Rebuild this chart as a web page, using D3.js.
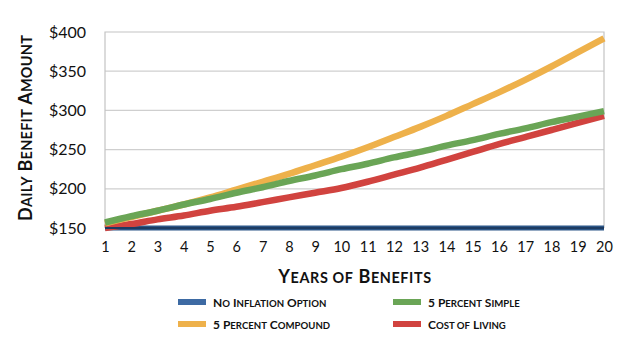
<!DOCTYPE html>
<html>
<head>
<meta charset="utf-8">
<script src="https://cdn.jsdelivr.net/npm/d3@7"></script>
<style>
  body { margin: 0; background: #fff; }
  svg { display: block; font-family: Lato, "Open Sans", sans-serif; }
</style>
</head>
<body>
<svg width="640" height="349"></svg>
<script>
// years on the x axis
var years = d3.range(1, 21);
var yTicks = [150, 200, 250, 300, 350, 400];

// series values
var noInflation = [150,150,150,150,150,150,150,150,150,150,150,150,150,150,150,150,150,150,150,150];
var simple5 = [157,165,172,180,187,195,202,210,217,225,232,240,247,255,262,270,277,285,292,299];
var compound5 = [156,164,172,180,189,199,209,219,230,241,253,266,279,293,308,323,339,356,374,392];
var costOfLiving = [150,155,161,166,172,177,183,189,195,201,209,218,227,237,247,257,266,275,284,293];

var seriesNames = ["No Inflation Option", "5 Percent Simple", "5 Percent Compound", "Cost of Living"];
var seriesColors = ["#2c5687", "#6aa556", "#eeb14b", "#d1433f"];

var svg = d3.select("svg");

var x = d3.scaleLinear().domain([1, 20]).range([105, 604]);
var y = d3.scaleLinear().domain([150, 400]).range([228, 32]);

// small caps by hand: first letter of each word full size, rest smaller
function smallCaps(sel, str, size) {
  var words = str.split(" ");
  words.forEach(function(w, i) {
    var first = w.charAt(0), rest = w.slice(1);
    var lower = first !== first.toUpperCase();
    sel.append("tspan").attr("font-size", lower ? size * 0.8 : size)
      .text((i > 0 ? " " : "") + first.toUpperCase());
    if (rest) sel.append("tspan").attr("font-size", size * 0.8).text(rest.toUpperCase());
  });
}

// gridlines
svg.append("g")
  .selectAll("line")
  .data(yTicks.slice(1, -1))
  .enter().append("line")
  .attr("x1", x(1)).attr("x2", x(20))
  .attr("y1", d => y(d)).attr("y2", d => y(d))
  .attr("stroke", "#cfcfcf")
  .attr("stroke-width", 1.2);

// frame (left, top, right)
svg.append("path")
  .attr("d", "M" + x(1) + "," + y(150) + "V" + y(400) + "H" + x(20) + "V" + y(150))
  .attr("fill", "none")
  .attr("stroke", "#c4c4c4")
  .attr("stroke-width", 1.2);

// y axis labels
var yAxis = d3.axisLeft(y).tickValues(yTicks).tickSize(0).tickPadding(19)
  .tickFormat(d => "$" + d);
svg.append("g")
  .attr("transform", "translate(" + x(1) + ",0)")
  .call(yAxis)
  .call(g => g.select(".domain").remove())
  .selectAll("text")
  .attr("font-family", "Lato, sans-serif")
  .attr("font-size", 16)
  .attr("fill", "#111");

// x axis labels
var xAxis = d3.axisBottom(x).tickValues(years).tickSize(0).tickPadding(14)
  .tickFormat(d3.format("d"));
svg.append("g")
  .attr("transform", "translate(0," + y(150) + ")")
  .call(xAxis)
  .call(g => g.select(".domain").remove())
  .selectAll("text")
  .attr("font-family", "Lato, sans-serif")
  .attr("font-size", 14.5)
  .attr("fill", "#111");

// lines
var line = d3.line()
  .x((d, i) => x(years[i]))
  .y(d => y(d))
  .curve(d3.curveMonotoneX);

var drawOrder = [
  {vals: noInflation, color: seriesColors[0], w: 5},
  {vals: costOfLiving, color: seriesColors[3], w: 6.5},
  {vals: compound5, color: seriesColors[2], w: 6.5},
  {vals: simple5, color: seriesColors[1], w: 6.5}
];

svg.append("g")
  .selectAll("path")
  .data(drawOrder)
  .enter().append("path")
  .attr("d", d => line(d.vals))
  .attr("fill", "none")
  .attr("stroke", d => d.color)
  .attr("stroke-width", d => d.w);

// dark core on the flat blue line
svg.append("path")
  .attr("d", line(noInflation))
  .attr("fill", "none")
  .attr("stroke", "#1d3b62")
  .attr("stroke-width", 2);

// axis titles
var xTitle = svg.append("text")
  .attr("x", 355).attr("y", 283)
  .attr("text-anchor", "middle")
  .attr("font-weight", "bold")
  .attr("letter-spacing", 0.6)
  .attr("fill", "#111");
smallCaps(xTitle, "Years of Benefits", 18);

var yTitle = svg.append("text")
  .attr("transform", "translate(32,128) rotate(-90)")
  .attr("text-anchor", "middle")
  .attr("font-weight", "bold")
  .attr("letter-spacing", 0.3)
  .attr("fill", "#111");
smallCaps(yTitle, "Daily Benefit Amount", 18);

// legend
var legendPos = [[178, 302], [393, 302], [178, 324], [393, 324]];
var legendOrder = [0, 1, 2, 3];

var leg = svg.append("g")
  .selectAll("g")
  .data(legendOrder)
  .enter().append("g")
  .attr("transform", (d, i) => "translate(" + legendPos[i][0] + "," + legendPos[i][1] + ")");

leg.append("rect")
  .attr("x", 0).attr("y", -3)
  .attr("width", 28).attr("height", 6)
  .attr("fill", d => d === 0 ? "#3d6aa3" : seriesColors[d]);

leg.append("text")
  .attr("x", 35).attr("y", 4.5)
  .attr("font-weight", "bold")
  .attr("fill", "#111")
  .each(function(d) { smallCaps(d3.select(this), seriesNames[d], 12); });
</script>
</body>
</html>
